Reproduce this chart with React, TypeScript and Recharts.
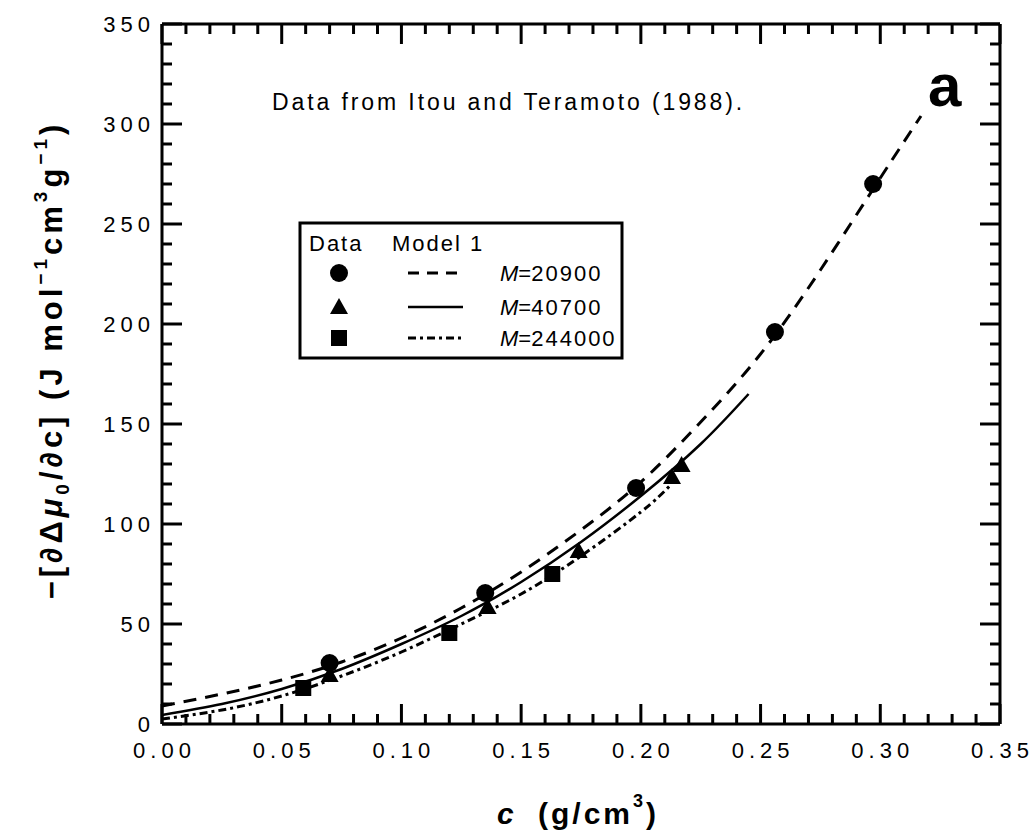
import { ComposedChart, Line, Scatter, XAxis, YAxis } from "recharts";

// data points (Itou & Teramoto 1988)
const circles20900 = [
  { x: 0.07, y: 30.5 },
  { x: 0.135, y: 65.5 },
  { x: 0.198, y: 118 },
  { x: 0.256, y: 196 },
  { x: 0.297, y: 270 },
];
const triangles40700 = [
  { x: 0.07, y: 24.5 },
  { x: 0.136, y: 58.5 },
  { x: 0.174, y: 86.5 },
  { x: 0.213, y: 123.5 },
  { x: 0.217, y: 129.5 },
];
const squares244000 = [
  { x: 0.059, y: 18 },
  { x: 0.12, y: 45.5 },
  { x: 0.163, y: 75 },
];

// model 1 curves, sampled along c
const model20900 = [
  { x: 0, y: 9 },
  { x: 0.025, y: 15 },
  { x: 0.05, y: 22 },
  { x: 0.075, y: 31 },
  { x: 0.1, y: 43 },
  { x: 0.125, y: 58 },
  { x: 0.15, y: 76 },
  { x: 0.175, y: 97 },
  { x: 0.2, y: 121 },
  { x: 0.225, y: 151 },
  { x: 0.25, y: 185 },
  { x: 0.275, y: 227 },
  { x: 0.3, y: 273 },
  { x: 0.317, y: 304 },
];
const model40700 = [
  { x: 0, y: 4.5 },
  { x: 0.025, y: 10 },
  { x: 0.05, y: 17.5 },
  { x: 0.075, y: 27.5 },
  { x: 0.1, y: 40 },
  { x: 0.125, y: 54 },
  { x: 0.15, y: 71 },
  { x: 0.175, y: 91 },
  { x: 0.2, y: 114 },
  { x: 0.225, y: 140 },
  { x: 0.245, y: 165 },
];
const model244000 = [
  { x: 0, y: 2.5 },
  { x: 0.025, y: 7 },
  { x: 0.05, y: 14 },
  { x: 0.075, y: 24 },
  { x: 0.1, y: 36 },
  { x: 0.125, y: 50 },
  { x: 0.15, y: 65 },
  { x: 0.175, y: 84 },
  { x: 0.2, y: 106 },
  { x: 0.212, y: 119 },
];

const xMajor = [0, 0.05, 0.1, 0.15, 0.2, 0.25, 0.3, 0.35];
const xLabels = ["0.00", "0.05", "0.10", "0.15", "0.20", "0.25", "0.30", "0.35"];
const yMajor = [0, 50, 100, 150, 200, 250, 300, 350];
const yLabels = ["0", "50", "100", "150", "200", "250", "300", "350"];
const xTicks = Array.from({ length: 36 }, (_, i) => i / 100);
const yTicks = Array.from({ length: 36 }, (_, i) => i * 10);

const FONT = "'Liberation Sans', Arial, Helvetica, sans-serif";
const LS = 5;

const xIdx = (v: number) => xMajor.findIndex((m) => Math.abs(m - v) < 1e-6);
const yIdx = (v: number) => yMajor.findIndex((m) => Math.abs(m - v) < 1e-6);

const BottomTick = ({ x, y, payload }: any) => {
  const i = xIdx(payload.value);
  return (
    <g>
      <line x1={x} x2={x} y1={y} y2={y - (i >= 0 ? 20 : 10)} stroke="#000" strokeWidth={3} />
      {i >= 0 && (
        <text x={x} dx={LS / 2} y={y + 34} textAnchor="middle" fontSize={22} letterSpacing={LS} fontFamily={FONT} fill="#000">
          {xLabels[i]}
        </text>
      )}
    </g>
  );
};

const TopTick = ({ x, y, payload }: any) => {
  const i = xIdx(payload.value);
  return <line x1={x} x2={x} y1={y} y2={y + (i >= 0 ? 20 : 10)} stroke="#000" strokeWidth={3} />;
};

const LeftTick = ({ x, y, payload }: any) => {
  const i = yIdx(payload.value);
  return (
    <g>
      <line x1={x} x2={x + (i >= 0 ? 20 : 10)} y1={y} y2={y} stroke="#000" strokeWidth={3} />
      {i >= 0 && (
        <text x={x - 12 + LS} y={y + 8} textAnchor="end" fontSize={22} letterSpacing={LS} fontFamily={FONT} fill="#000">
          {yLabels[i]}
        </text>
      )}
    </g>
  );
};

const RightTick = ({ x, y, payload }: any) => {
  const i = yIdx(payload.value);
  return <line x1={x} x2={x - (i >= 0 ? 20 : 10)} y1={y} y2={y} stroke="#000" strokeWidth={3} />;
};

const circleShape = (p: any) => <circle cx={p.cx} cy={p.cy} r={9} fill="#000" />;
const triangleShape = (p: any) => (
  <polygon points={`${p.cx},${p.cy - 9} ${p.cx - 9},${p.cy + 7} ${p.cx + 9},${p.cy + 7}`} fill="#000" />
);
const squareShape = (p: any) => <rect x={p.cx - 8} y={p.cy - 8} width={16} height={16} fill="#000" />;

const axisLine = { stroke: "#000", strokeWidth: 3 };

const LegendLabel = ({ y, value }: { y: number; value: string }) => (
  <text x={500} y={y} fontSize={22} fill="#000">
    <tspan fontStyle="italic">M</tspan>
    <tspan>=</tspan>
    <tspan letterSpacing={2}>{value}</tspan>
  </text>
);

const App = () => {
  return (
    <div style={{ position: "absolute", left: 0, top: 0, width: 1035, height: 836, background: "#fff" }}>
      <ComposedChart width={1035} height={836} margin={{ top: 23, right: 34, bottom: 111, left: 161 }}>
        <XAxis
          dataKey="x"
          type="number"
          domain={[0, 0.35]}
          ticks={xTicks}
          interval={0}
          tickSize={0}
          tickMargin={0}
          height={1}
          axisLine={axisLine}
          tickLine={false}
          tick={BottomTick}
          allowDataOverflow
        />
        <XAxis
          xAxisId="top"
          orientation="top"
          dataKey="x"
          type="number"
          domain={[0, 0.35]}
          ticks={xTicks}
          interval={0}
          tickSize={0}
          tickMargin={0}
          height={1}
          axisLine={axisLine}
          tickLine={false}
          tick={TopTick}
          allowDataOverflow
        />
        <YAxis
          dataKey="y"
          type="number"
          domain={[0, 350]}
          ticks={yTicks}
          interval={0}
          tickSize={0}
          tickMargin={0}
          width={1}
          axisLine={axisLine}
          tickLine={false}
          tick={LeftTick}
          allowDataOverflow
        />
        <YAxis
          yAxisId="right"
          orientation="right"
          dataKey="y"
          type="number"
          domain={[0, 350]}
          ticks={yTicks}
          interval={0}
          tickSize={0}
          tickMargin={0}
          width={1}
          axisLine={axisLine}
          tickLine={false}
          tick={RightTick}
          allowDataOverflow
        />
        <Line data={model20900} dataKey="y" type="natural" stroke="#000" strokeWidth={3} strokeDasharray="13 9" dot={false} activeDot={false} isAnimationActive={false} />
        <Line data={model40700} dataKey="y" type="natural" stroke="#000" strokeWidth={2.5} dot={false} activeDot={false} isAnimationActive={false} />
        <Line data={model244000} dataKey="y" type="natural" stroke="#000" strokeWidth={3} strokeDasharray="8 4 3 4" dot={false} activeDot={false} isAnimationActive={false} />
        <Scatter data={circles20900} dataKey="y" shape={circleShape} isAnimationActive={false} />
        <Scatter data={triangles40700} dataKey="y" shape={triangleShape} isAnimationActive={false} />
        <Scatter data={squares244000} dataKey="y" shape={squareShape} isAnimationActive={false} />
      </ComposedChart>

      <svg width={1035} height={836} style={{ position: "absolute", left: 0, top: 0, pointerEvents: "none" }} fontFamily={FONT}>
        <text x={272} y={110} fontSize={23} letterSpacing={2.9} fill="#000">
          Data from Itou and Teramoto (1988).
        </text>
        <text x={928} y={106} fontSize={60} fontWeight="bold" fill="#000">
          a
        </text>

        {/* legend */}
        <rect x={300} y={223} width={322} height={135} fill="#fff" stroke="#000" strokeWidth={3} />
        <text x={309} y={251} fontSize={22} letterSpacing={2} fill="#000">Data</text>
        <text x={392} y={251} fontSize={22} letterSpacing={2} fill="#000">Model 1</text>
        <circle cx={339} cy={273} r={9} fill="#000" />
        <polygon points="339,298 330,314 348,314" fill="#000" />
        <rect x={331} y={330} width={16} height={16} fill="#000" />
        <line x1={408} x2={463} y1={273} y2={273} stroke="#000" strokeWidth={3} strokeDasharray="11 8" />
        <line x1={408} x2={463} y1={307} y2={307} stroke="#000" strokeWidth={2.5} />
        <line x1={408} x2={463} y1={338} y2={338} stroke="#000" strokeWidth={3} strokeDasharray="8 4 3 4" />
        <LegendLabel y={281} value="20900" />
        <LegendLabel y={315} value="40700" />
        <LegendLabel y={346} value="244000" />

        {/* x axis title */}
        <text x={497} y={824} fontSize={30} fontWeight="bold" fontStyle="italic" fill="#000">c</text>
        <text x={538} y={824} fontSize={30} fontWeight="bold" letterSpacing={3} fill="#000">
          (g/cm
          <tspan fontSize={18} dy={-17}>3</tspan>
          <tspan dy={17}>)</tspan>
        </text>

        {/* y axis title */}
        <text transform="translate(62,360) rotate(-90)" textAnchor="middle" fontSize={31} fontWeight="bold" letterSpacing={4} fill="#000">
          <tspan>−[∂Δ</tspan>
          <tspan fontStyle="italic">μ</tspan>
          <tspan fontSize={19} dy={7}>0</tspan>
          <tspan dy={-7}>/∂c] (J mol</tspan>
          <tspan fontSize={19} dy={-15}>−1</tspan>
          <tspan dy={15}>cm</tspan>
          <tspan fontSize={19} dy={-15}>3</tspan>
          <tspan dy={15}>g</tspan>
          <tspan fontSize={19} dy={-15}>−1</tspan>
          <tspan dy={15}>)</tspan>
        </text>
      </svg>
    </div>
  );
};

export default App;
